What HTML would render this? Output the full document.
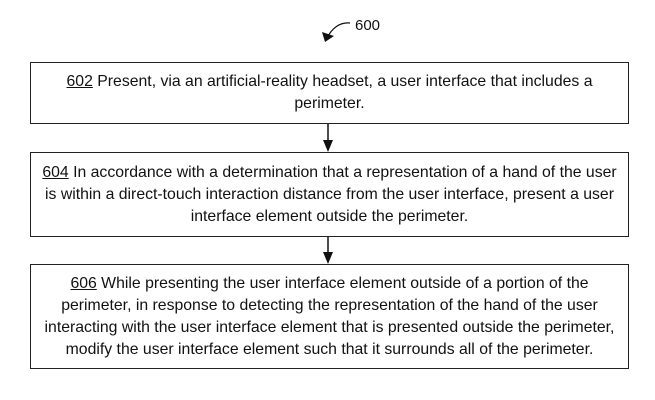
<!DOCTYPE html>
<html><head><meta charset="utf-8"><style>
html,body{margin:0;padding:0;background:#fff;}
body{width:655px;height:400px;position:relative;overflow:hidden;font-family:"Liberation Sans",Arial,sans-serif;color:#111;}
.box{position:absolute;left:30px;width:599px;border:1.5px solid #222;box-sizing:border-box;text-align:center;font-size:15.8px;line-height:22px;display:flex;align-items:center;justify-content:center;white-space:nowrap;}
.box div{width:100%;}
u{text-decoration:underline;}
</style></head><body>
<svg width="655" height="400" style="position:absolute;left:0;top:0">
<path d="M350,23 C340,22 332,28 327,38" fill="none" stroke="#111" stroke-width="1.2"/>
<path d="M322,32 L334,36 L325,42 z" fill="#111"/>
<text x="355" y="30" font-family="Liberation Sans, Arial, sans-serif" font-size="15" fill="#111">600</text>
<line x1="328" y1="123" x2="328" y2="142" stroke="#111" stroke-width="1.5"/>
<path d="M323,140 L333,140 L328,152 z" fill="#111"/>
<line x1="328" y1="236" x2="328" y2="254" stroke="#111" stroke-width="1.5"/>
<path d="M323,252 L333,252 L328,264 z" fill="#111"/>
</svg>
<div class="box" style="top:62px;height:62px"><div><u>602</u> Present, via an artificial-reality headset, a user interface that includes a<br>perimeter.</div></div>
<div class="box" style="top:152px;height:85px"><div><u>604</u> In accordance with a determination that a representation of a hand of the user<br>is within a direct-touch interaction distance from the user interface, present a user<br>interface element outside the perimeter.</div></div>
<div class="box" style="top:264px;height:105px"><div><u>606</u> While presenting the user interface element outside of a portion of the<br>perimeter, in response to detecting the representation of the hand of the user<br>interacting with the user interface element that is presented outside the perimeter,<br>modify the user interface element such that it surrounds all of the perimeter.</div></div>
</body></html>
